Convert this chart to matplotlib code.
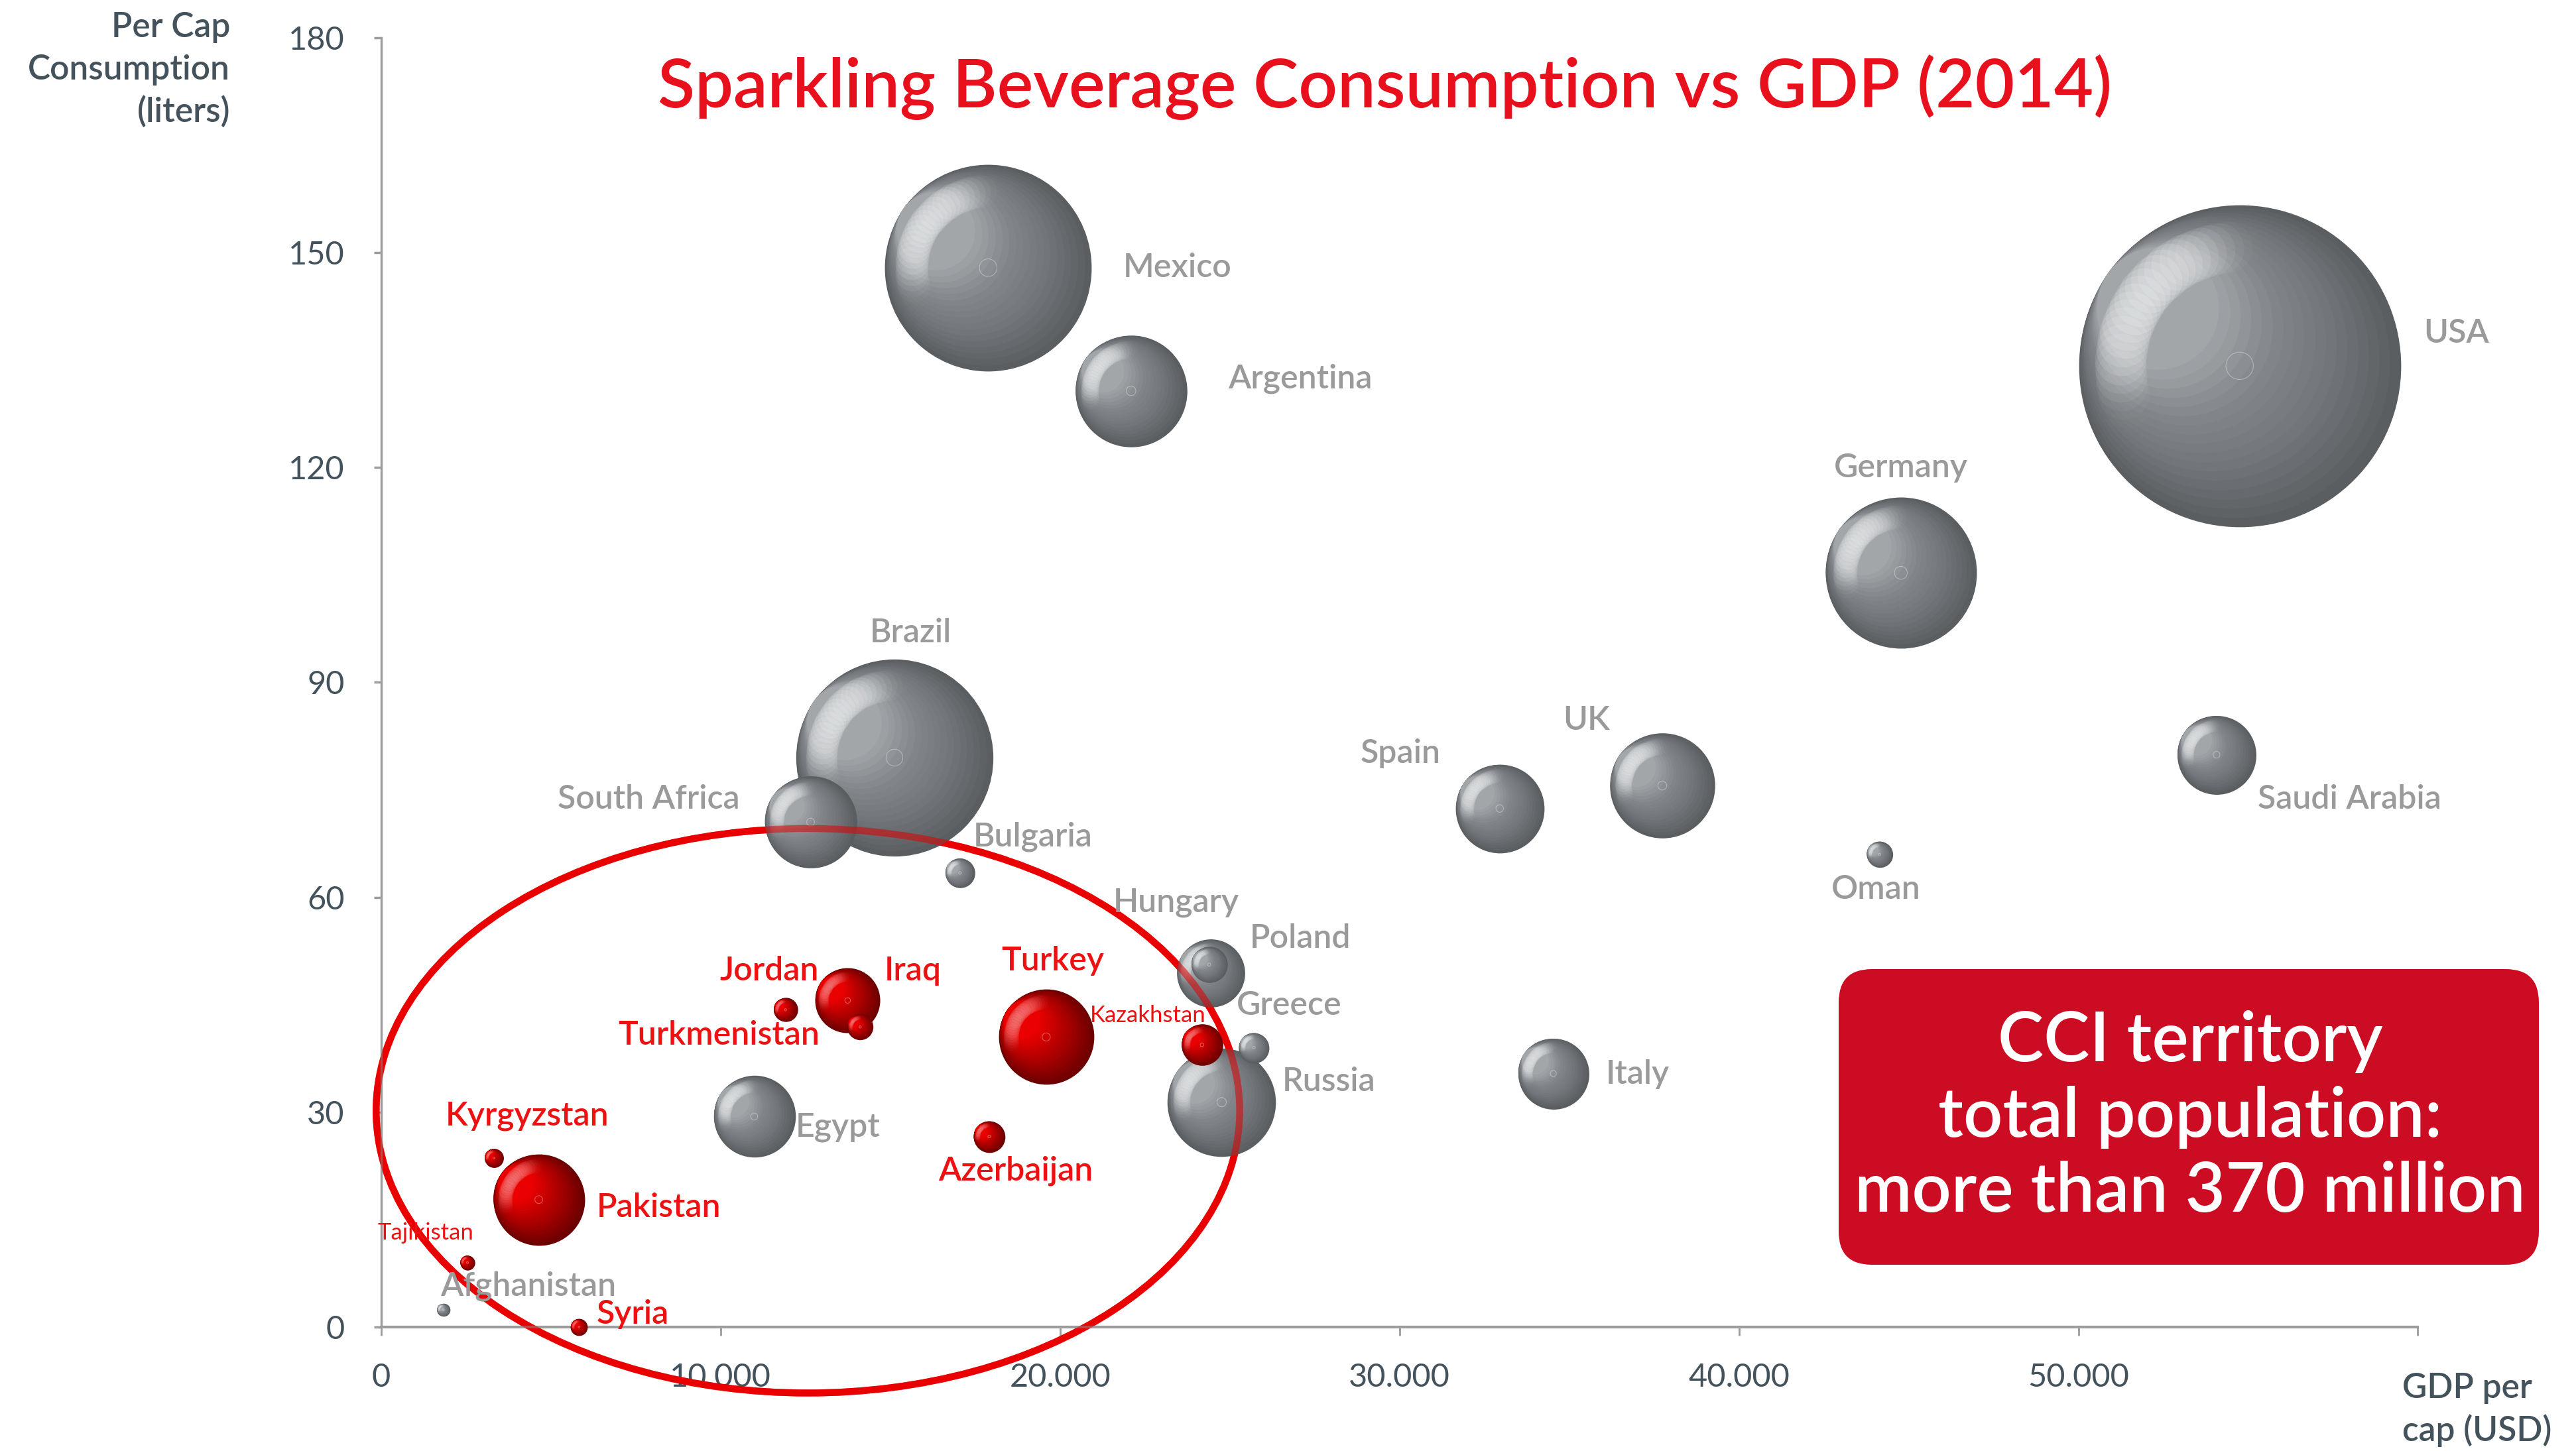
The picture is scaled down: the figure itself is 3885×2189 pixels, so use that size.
import numpy as np
import matplotlib
matplotlib.use('Agg')
import matplotlib.pyplot as plt
from matplotlib.patches import Ellipse, FancyBboxPatch
from matplotlib.transforms import offset_copy
from matplotlib.colors import LinearSegmentedColormap

# ---------------------------------------------------------------- data
# gdp per cap (USD), consumption per cap (liters), market volume (bn liters -> bubble area)
grey_names = ['USA', 'Mexico', 'Brazil', 'Germany', 'Argentina', 'Russia', 'UK',
              'South Africa', 'Spain', 'Egypt', 'Saudi Arabia', 'Italy', 'Poland',
              'Hungary', 'Greece', 'Bulgaria', 'Oman', 'Afghanistan']
grey_gdp = [54750, 17880, 15120, 44770, 22090, 24760, 37740,
            12650, 32950, 10990, 54070, 34530, 24440,
            24390, 25710, 17050, 44140, 1830]
grey_cons = [134.2, 147.9, 79.5, 105.3, 130.7, 31.4, 75.6,
             70.5, 72.4, 29.4, 79.9, 35.4, 49.4,
             50.6, 39.0, 63.4, 66.0, 2.4]
grey_vol = [42.7, 17.6, 16.0, 9.41, 5.14, 4.84, 4.55,
            3.49, 3.24, 2.76, 2.56, 2.07, 1.91,
            0.54, 0.38, 0.36, 0.28, 0.07]

red_names = ['Turkey', 'Pakistan', 'Iraq', 'Kazakhstan', 'Azerbaijan', 'Turkmenistan',
             'Jordan', 'Kyrgyzstan', 'Syria', 'Tajikistan']
red_gdp = [19590, 4640, 13740, 24180, 17910, 14110, 11910, 3320, 5830, 2540]
red_cons = [40.5, 17.8, 45.6, 39.4, 26.6, 41.9, 44.3, 23.6, 0.0, 9.0]
red_vol = [3.74, 3.44, 1.74, 0.71, 0.41, 0.28, 0.24, 0.15, 0.12, 0.09]

# label anchor (x, y, ha) in data units
label_pos = {
    'Mexico': (21850, 147.9, 'left'), 'Argentina': (24950, 132.4, 'left'),
    'USA': (60170, 138.8, 'left'), 'Germany': (44770, 120.0, 'center'),
    'Brazil': (15600, 96.9, 'center'), 'South Africa': (10560, 73.7, 'right'),
    'Bulgaria': (17440, 68.5, 'left'), 'Spain': (31200, 80.1, 'right'),
    'UK': (35510, 84.7, 'center'), 'Saudi Arabia': (55280, 73.7, 'left'),
    'Oman': (44040, 61.1, 'center'), 'Hungary': (21560, 59.3, 'left'),
    'Poland': (25580, 54.3, 'left'), 'Greece': (25190, 44.9, 'left'),
    'Russia': (26550, 34.3, 'left'), 'Italy': (36080, 35.3, 'left'),
    'Egypt': (12210, 27.9, 'left'), 'Afghanistan': (1740, 5.7, 'left'),
    'Jordan': (12890, 49.7, 'right'), 'Iraq': (14830, 49.7, 'left'),
    'Turkey': (18270, 51.1, 'left'), 'Turkmenistan': (6980, 40.8, 'left'),
    'Kazakhstan': (20880, 43.5, 'left'), 'Kyrgyzstan': (1890, 29.5, 'left'),
    'Pakistan': (6350, 16.7, 'left'), 'Azerbaijan': (16420, 21.8, 'left'),
    'Tajikistan': (-100, 13.1, 'left'), 'Syria': (6350, 1.8, 'left'),
}
narrow = ['Kazakhstan', 'Tajikistan']

xticks = [0, 10000, 20000, 30000, 40000, 50000]
xtick_labels = ['0', '10.000', '20.000', '30.000', '40.000', '50.000']
yticks = [0, 30, 60, 90, 120, 150, 180]

# ---------------------------------------------------------------- figure
fig = plt.figure(figsize=(38.85, 21.89), dpi=100)
ax = fig.add_axes([0.148, 0.0854, 0.7906, 0.8886])
ax.set_xlim(0, 60000)
ax.set_ylim(0, 180)

axis_col = '#9c9c9c'
text_col = '#44525c'
for s in ['top', 'right']:
    ax.spines[s].set_visible(False)
ax.spines['bottom'].set_color(axis_col)
ax.spines['bottom'].set_linewidth(3)
ax.spines['left'].set_color(axis_col)
ax.spines['left'].set_linewidth(2.4)

ax.set_xticks(xticks + [60000])
ax.set_xticklabels(xtick_labels + [''])
ax.set_yticks(yticks)
ax.tick_params(axis='x', length=9, width=2, color=axis_col, pad=30,
               labelsize=35, labelcolor=text_col)
ax.tick_params(axis='y', length=8, width=2.5, color=axis_col, pad=32,
               labelsize=35, labelcolor=text_col)
for lab in ax.get_xticklabels() + ax.get_yticklabels():
    lab.set_family('Lato')
    lab.set_weight('normal')

# territory ellipse (under the bubbles)
ell_kw = dict(xy=(12570, 30.2), width=25440, height=78.8, fill=False, clip_on=False)
ax.add_patch(Ellipse(edgecolor='#f50000', linewidth=7.5, zorder=2, **ell_kw))

# body gradient: dark shadow side -> lighter lit side
grey_body = LinearSegmentedColormap.from_list('gb', ['#5a5e61', '#717579', '#82868a', '#a2a6a9'])
red_body = LinearSegmentedColormap.from_list('rb', ['#6c0000', '#990000', '#c20000', '#ea0000'])

area_per_vol = 2864.0  # points^2 per bn liters
light_ang = np.deg2rad(145)   # light comes from upper left
ux, uy = np.cos(light_ang), np.sin(light_ang)


def dot(x, y, d, dx, dy, col, z, alpha=1.0):
    tr = offset_copy(ax.transData, fig=fig, x=dx, y=dy, units='points')
    ax.scatter([x], [y], s=d ** 2, color=col, alpha=alpha, linewidths=0,
               transform=tr, zorder=z, clip_on=False)


def draw_bubbles(xs, ys, vols, body, hl_alpha, z):
    order = np.argsort(vols)[::-1]
    for j, i in enumerate(order):
        r = np.sqrt(vols[i] * area_per_vol) / 2
        zz = z + j * 0.01
        # shading: circles shrinking towards the lit rim
        n = 18
        for k in range(n):
            t = k / (n - 1)
            f = 1 - 0.62 * t
            off = (1 - f) * r
            dot(xs[i], ys[i], 2 * r * f, ux * off, uy * off, body(t), zz)
        # soft highlight band along the upper-left rim
        m = 26
        for k in range(m):
            s = (k + 0.5) / m
            a = light_ang + np.deg2rad(-55 + 110 * s)
            rr = 0.74 * r
            dot(xs[i], ys[i], 0.32 * r, rr * np.cos(a), rr * np.sin(a), 'white', zz,
                alpha=hl_alpha * np.sin(np.pi * s))
        ax.scatter([xs[i]], [ys[i]], s=max((0.17 * r) ** 2, 4), facecolors='none',
                   edgecolors=(1, 1, 1, 0.35), linewidths=0.8, zorder=zz + 0.005,
                   clip_on=False)


draw_bubbles(grey_gdp, grey_cons, grey_vol, grey_body, 0.15, 3)
draw_bubbles(red_gdp, red_cons, red_vol, red_body, 0.09, 4)

# ellipse again on top, half transparent, so it shows through the bubbles
ax.add_patch(Ellipse(edgecolor='#e00000', linewidth=7.5, alpha=0.55, zorder=6, **ell_kw))

# labels
for name in grey_names + red_names:
    x, y, ha = label_pos[name]
    col = '#ee1111' if name in red_names else '#9a9a9a'
    if name in narrow:
        ax.text(x, y, name, ha=ha, va='center', fontsize=25, color=col,
                family='Lato', zorder=8)
    else:
        ax.text(x, y, name, ha=ha, va='center', fontsize=36, color=col,
                family='Lato', weight='semibold', zorder=8)

# title and axis captions
fig.text(0.5377, 0.940, 'Sparkling Beverage Consumption vs GDP (2014)', ha='center',
         va='center', fontsize=74, color='#e8101c', family='Lato', weight='semibold')
for txt, yy in [('Per Cap', 0.981), ('Consumption', 0.952), ('(liters)', 0.923)]:
    fig.text(0.0893, yy, txt, ha='right', va='center', fontsize=37, color=text_col,
             family='Lato', weight='semibold')
for txt, yy in [('GDP per', 0.043), ('cap (USD)', 0.014)]:
    fig.text(0.9326, yy, txt, ha='left', va='center', fontsize=37, color=text_col,
             family='Lato', weight='semibold')

# CCI box
box = FancyBboxPatch((27.73, 2.81), 10.56, 4.46, boxstyle='round,pad=0,rounding_size=0.5',
                     transform=fig.dpi_scale_trans, facecolor='#cc0c22', edgecolor='none',
                     zorder=10)
fig.patches.append(box)
for txt, yy in [('CCI territory', 0.2823), ('total population:', 0.2302),
                ('more than 370 million', 0.1782)]:
    fig.text(0.8502, yy, txt, ha='center', va='center', fontsize=75, color='white',
             family='Lato', weight='semibold', zorder=11)

fig.savefig('out.png', dpi=100)
